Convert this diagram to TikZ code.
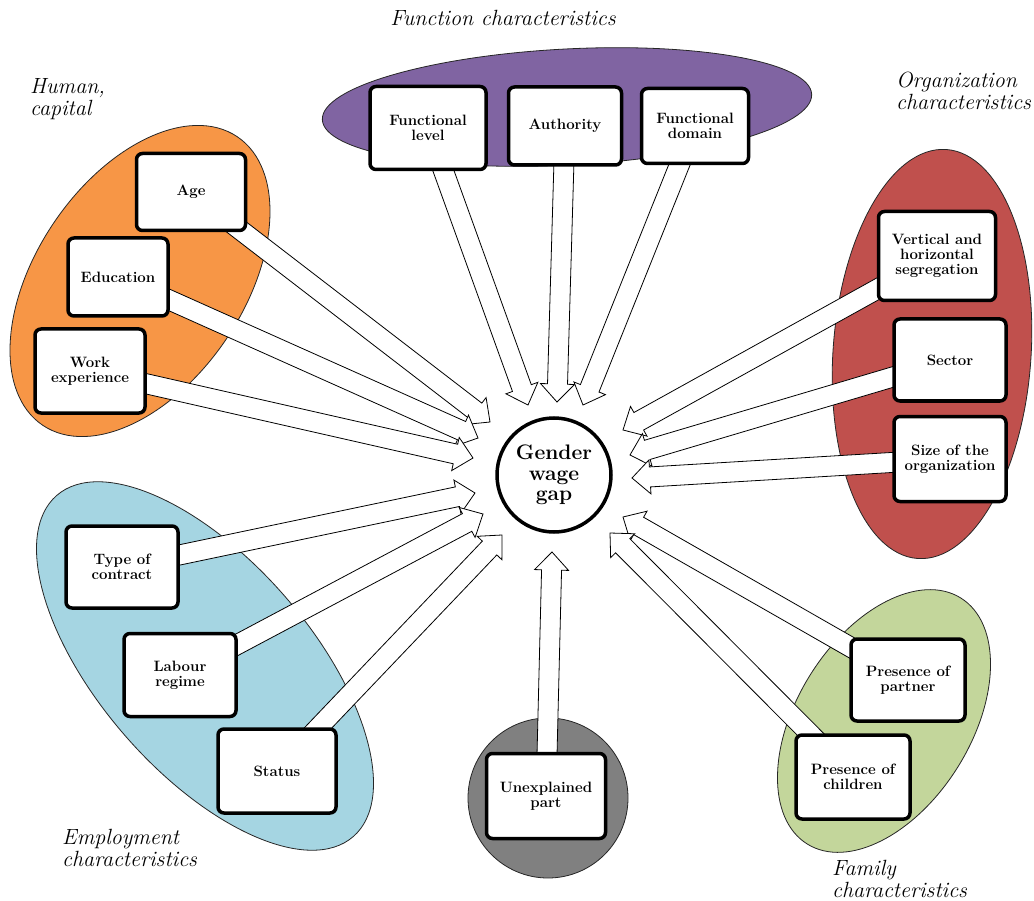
\documentclass[tikz,border=0pt]{standalone}
\usetikzlibrary{calc}
\pgfdeclarelayer{bg}
\pgfdeclarelayer{arr}
\pgfsetlayers{bg,arr,main}
\definecolor{cpurple}{RGB}{128,100,162}
\definecolor{corange}{RGB}{247,150,70}
\definecolor{cred}{RGB}{192,80,77}
\definecolor{cblue}{RGB}{165,213,226}
\definecolor{cgreen}{RGB}{195,214,155}
\definecolor{cgray}{RGB}{128,128,128}
\newcommand\blockarrow[2]{%
  \coordinate (hb) at ($(#2)!18pt!(#1.center)$);
  \draw[barrow] ($(#1.center)!10pt!90:(#2)$) -- ($(hb)!10pt!90:(#2)$) -- ($(hb)!17pt!90:(#2)$) -- (#2) -- ($(hb)!17pt!-90:(#2)$) -- ($(hb)!10pt!-90:(#2)$) -- ($(#1.center)!10pt!-90:(#2)$) -- cycle;}
\begin{document}
\begin{tikzpicture}[x=1pt,y=-1pt,
  box/.style={draw, line width=3.5pt, rounded corners=6pt, fill=white, align=center,
    font=\fontsize{15}{15}\selectfont\bfseries, inner sep=2pt},
  grp/.style={font=\fontsize{22}{22}\selectfont\itshape, align=left, anchor=west, inner sep=0pt},
  blob/.style={draw=black!85, line width=0.8pt},
  barrow/.style={draw=black, line width=0.8pt, fill=white, line join=miter}]
\useasboundingbox (0,0) rectangle (1034,901);

% background groups
\begin{pgfonlayer}{bg}
  \draw[blob, fill=cpurple, rotate around={3:(567,107)}] (567,107) ellipse [x radius=245, y radius=58];
  \draw[blob, fill=corange, rotate around={56:(140,281)}] (140,281) ellipse [x radius=174, y radius=104];
  \draw[blob, fill=cred, rotate around={-4:(932,354)}] (932,354) ellipse [x radius=99, y radius=205];
  \draw[blob, fill=cblue, rotate around={-49:(205,666)}] (205,666) ellipse [x radius=226, y radius=106];
  \draw[blob, fill=cgreen, rotate around={58:(884,721)}] (884,721) ellipse [x radius=145, y radius=87];
  \draw[blob, fill=cgray] (548,798) circle [radius=80];
\end{pgfonlayer}

% centre
\node[draw, circle, line width=3.5pt, minimum size=114pt, fill=white, align=center,
  font=\fontsize{21}{20.5}\selectfont\bfseries] (gap) at (554,475) {Gender\\wage\\gap};

% boxes
\node[box, minimum width=109pt, minimum height=77pt] (age) at (191,192) {Age};
\node[box, minimum width=100pt, minimum height=78pt] (edu) at (118,277) {Education};
\node[box, minimum width=110pt, minimum height=84pt] (work) at (90,371) {Work\\experience};
\node[box, minimum width=116pt, minimum height=83pt] (flevel) at (428,128) {Functional\\level};
\node[box, minimum width=113pt, minimum height=78pt] (auth) at (565,126) {Authority};
\node[box, minimum width=107pt, minimum height=75pt] (fdom) at (695,126) {Functional\\domain};
\node[box, minimum width=117pt, minimum height=89pt] (vert) at (937,256) {Vertical and\\horizontal\\segregation};
\node[box, minimum width=112pt, minimum height=82pt] (sector) at (950,360) {Sector};
\node[box, minimum width=112pt, minimum height=85pt] (size) at (950,459) {Size of the\\organization};
\node[box, minimum width=112pt, minimum height=82pt] (contract) at (122,567) {Type of\\contract};
\node[box, minimum width=112pt, minimum height=83pt] (labour) at (180,675) {Labour\\regime};
\node[box, minimum width=118pt, minimum height=84pt] (status) at (277,771) {Status};
\node[box, minimum width=119pt, minimum height=85pt] (unexp) at (546,796) {Unexplained\\part};
\node[box, minimum width=114pt, minimum height=82pt] (partner) at (908,680) {Presence of\\partner};
\node[box, minimum width=114pt, minimum height=84pt] (children) at (853,777) {Presence of\\children};

% group labels
\node[grp, anchor=center] (lfun) at (503,18) {Function characteristics};
\node[grp] (lhum) at (30,99) {Human,\\capital};
\node[grp] (lorg) at (896,91) {Organization\\characteristics};
\node[grp] (lemp) at (62,848) {Employment\\characteristics};
\node[grp] (lfam) at (832,879) {Family\\characteristics};

% arrow tips
\coordinate (tAge) at (490,422);
\coordinate (tEdu) at (478,438);
\coordinate (tWork) at (473,458);
\coordinate (tCon) at (475,493);
\coordinate (tLab) at (483,514);
\coordinate (tSta) at (502,535);
\coordinate (tFL) at (528,405);
\coordinate (tAu) at (557,402);
\coordinate (tFD) at (583,405);
\coordinate (tVe) at (623,430);
\coordinate (tSe) at (630,455);
\coordinate (tSi) at (632,478);
\coordinate (tPa) at (623,517);
\coordinate (tCh) at (610,533);
\coordinate (tUn) at (552,552);

\begin{pgfonlayer}{arr}
  \blockarrow{age}{tAge}
  \blockarrow{edu}{tEdu}
  \blockarrow{work}{tWork}
  \blockarrow{contract}{tCon}
  \blockarrow{labour}{tLab}
  \blockarrow{status}{tSta}
  \blockarrow{flevel}{tFL}
  \blockarrow{auth}{tAu}
  \blockarrow{fdom}{tFD}
  \blockarrow{vert}{tVe}
  \blockarrow{sector}{tSe}
  \blockarrow{size}{tSi}
  \blockarrow{partner}{tPa}
  \blockarrow{children}{tCh}
  \blockarrow{unexp}{tUn}
\end{pgfonlayer}
\end{tikzpicture}
\end{document}
